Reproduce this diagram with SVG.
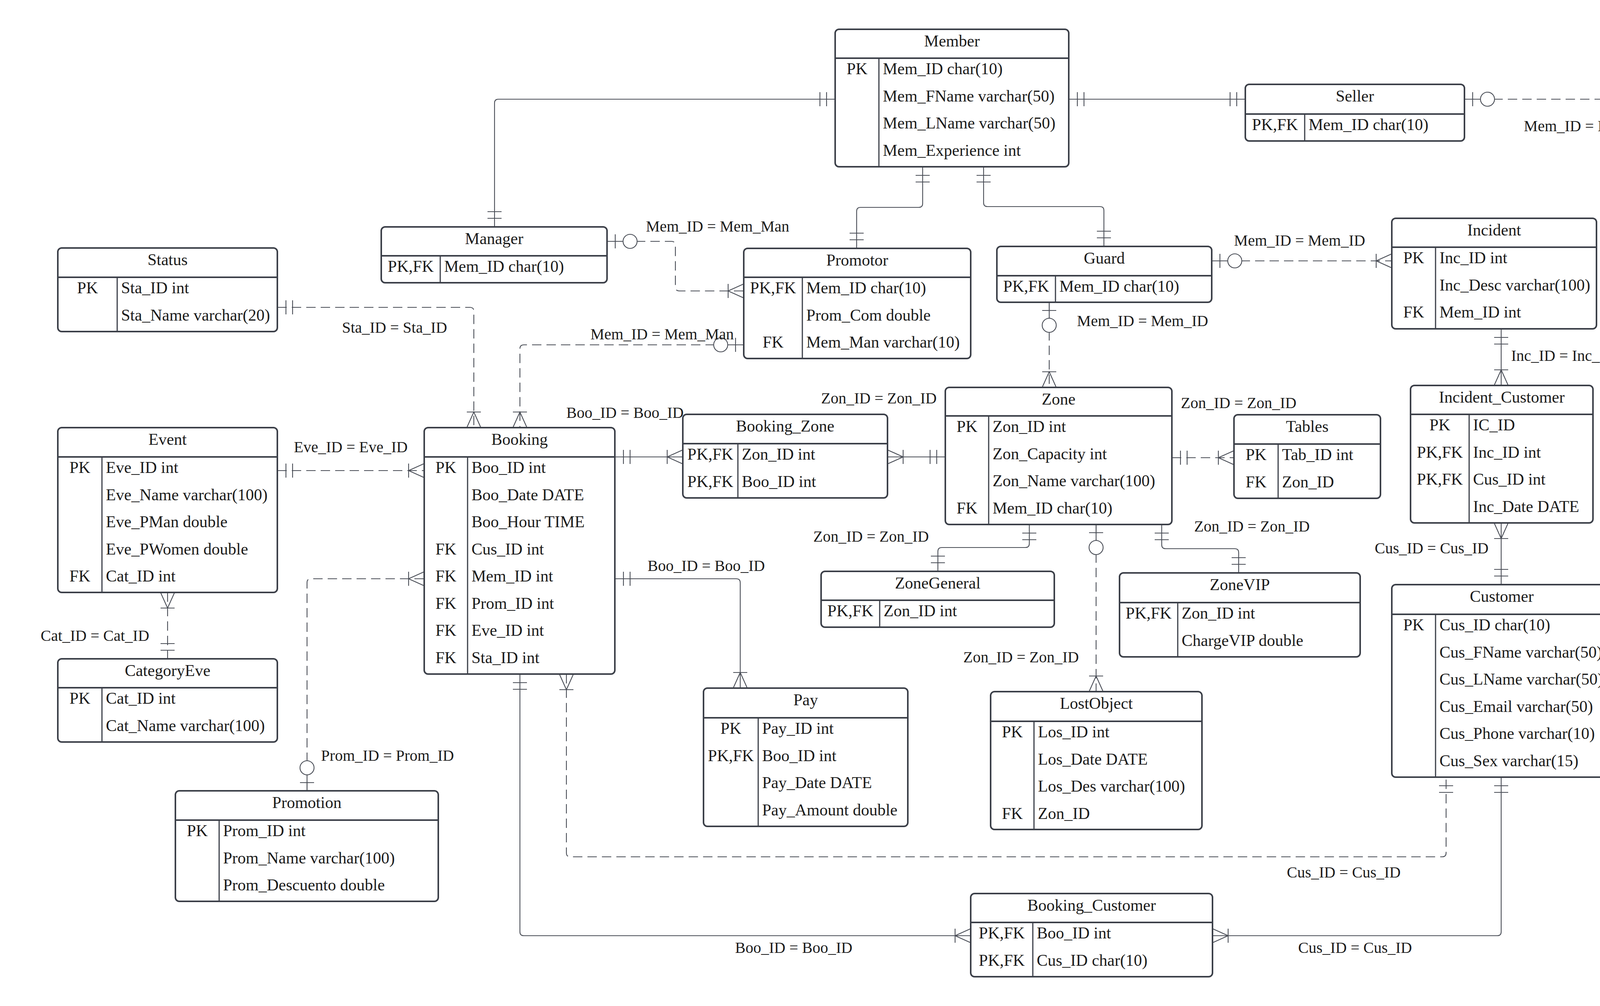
<svg xmlns="http://www.w3.org/2000/svg" width="5925" height="2576" viewBox="0 0 5925 2576">
<style>
.box{fill:#fff;stroke:#3b3f48;stroke-width:4}
.sep{stroke:#3b3f48;stroke-width:4}
.dv{stroke:#3b3f48;stroke-width:3}
text{font-family:"Liberation Serif","Times New Roman",serif;font-size:42px;fill:#1b1b1b}
.c{text-anchor:middle}
.lbl{font-size:40px;text-anchor:middle}
.ln{fill:none;stroke:#4a4e57;stroke-width:2.2}
.dash{stroke-dasharray:24 13}
</style>
<defs>
<marker id="one" markerUnits="userSpaceOnUse" orient="auto-start-reverse" viewBox="-90 -30 100 60" refX="0" refY="0" markerWidth="100" markerHeight="60">
<path d="M-22 -18V18M-39 -18V18" fill="none" stroke="#4a4e57" stroke-width="2.2"/>
</marker>
<marker id="many" markerUnits="userSpaceOnUse" orient="auto-start-reverse" viewBox="-90 -30 100 60" refX="0" refY="0" markerWidth="100" markerHeight="60">
<path d="M0 -18L-40 0L0 18M-40 -18V18" fill="none" stroke="#4a4e57" stroke-width="2.2"/>
</marker>
<marker id="zero" markerUnits="userSpaceOnUse" orient="auto-start-reverse" viewBox="-90 -30 100 60" refX="0" refY="0" markerWidth="100" markerHeight="60">
<path d="M-21 -18V18M0 0H-41" fill="none" stroke="#4a4e57" stroke-width="2.2"/>
<circle cx="-59" cy="0" r="18" fill="#fff" stroke="#4a4e57" stroke-width="2.2"/>
</marker>
</defs>
<rect width="5925" height="2576" fill="#fff"/>

<g id="connectors">
<path class="ln" d="M1266 581V264Q1266 254 1276 254H2138" marker-start="url(#one)" marker-end="url(#one)"/>
<path class="ln" d="M2736 254H3188" marker-start="url(#one)" marker-end="url(#one)"/>
<path class="ln dash" d="M3749 254H4313" marker-start="url(#zero)" marker-end="url(#many)"/>
<path class="ln" d="M4869 254H5272" marker-start="url(#one)" marker-end="url(#many)"/>
<path class="ln" d="M5512 358V634" marker-start="url(#many)" marker-end="url(#one)"/>
<path class="ln dash" d="M4592 427V658Q4592 668 4582 668H4248Q4238 668 4238 678V1667Q4238 1677 4228 1677H4126" marker-start="url(#many)" marker-end="url(#one)"/>
<path class="ln" d="M2362 427V521Q2362 531 2352 531H2203Q2193 531 2193 541V636" marker-start="url(#one)" marker-end="url(#one)"/>
<path class="ln" d="M2518 427V519Q2518 529 2528 529H2816Q2826 529 2826 539V631" marker-start="url(#one)" marker-end="url(#one)"/>
<path class="ln dash" d="M1554 618H1719Q1729 618 1729 628V735Q1729 745 1739 745H1904" marker-start="url(#zero)" marker-end="url(#many)"/>
<path class="ln dash" d="M1904 883H1341Q1331 883 1331 893V1095" marker-start="url(#zero)" marker-end="url(#many)"/>
<path class="ln dash" d="M710 787H1203Q1213 787 1213 797V1095" marker-start="url(#one)" marker-end="url(#many)"/>
<path class="ln dash" d="M710 1205H1086" marker-start="url(#one)" marker-end="url(#many)"/>
<path class="ln dash" d="M429 1517V1687" marker-start="url(#many)" marker-end="url(#one)"/>
<path class="ln dash" d="M786 2025V1492Q786 1482 796 1482H1086" marker-start="url(#zero)" marker-end="url(#many)"/>
<path class="ln" d="M1574 1170H1748" marker-start="url(#one)" marker-end="url(#many)"/>
<path class="ln" d="M2420 1170H2272" marker-start="url(#one)" marker-end="url(#many)"/>
<path class="ln dash" d="M2686 774V992" marker-start="url(#zero)" marker-end="url(#many)"/>
<path class="ln dash" d="M3102 668H3563" marker-start="url(#zero)" marker-end="url(#many)"/>
<path class="ln" d="M3843 842V987" marker-start="url(#one)" marker-end="url(#many)"/>
<path class="ln" d="M3843 1497V1339" marker-start="url(#one)" marker-end="url(#many)"/>
<path class="ln dash" d="M3000 1172H3159" marker-start="url(#one)" marker-end="url(#many)"/>
<path class="ln" d="M2635 1343V1392Q2635 1402 2625 1402H2411Q2401 1402 2401 1412V1463" marker-start="url(#one)" marker-end="url(#one)"/>
<path class="ln dash" d="M2806 1343V1771" marker-start="url(#zero)" marker-end="url(#many)"/>
<path class="ln" d="M2974 1343V1395Q2974 1405 2984 1405H3161Q3171 1405 3171 1415V1467" marker-start="url(#one)" marker-end="url(#one)"/>
<path class="ln" d="M1574 1482H1885Q1895 1482 1895 1492V1762" marker-start="url(#one)" marker-end="url(#many)"/>
<path class="ln dash" d="M1450 1726V2184Q1450 2194 1460 2194H3692Q3702 2194 3702 2184V1990" marker-start="url(#many)" marker-end="url(#one)"/>
<path class="ln" d="M1331 1726V2386Q1331 2396 1341 2396H2485" marker-start="url(#one)" marker-end="url(#many)"/>
<path class="ln" d="M3843 1990V2386Q3843 2396 3833 2396H3104" marker-start="url(#one)" marker-end="url(#many)"/>
<path class="ln dash" d="M5176 813H4609Q4599 813 4599 823V919" marker-start="url(#many)" marker-end="url(#one)"/>
<path class="ln" d="M5176 1022H4968Q4958 1022 4958 1032V1370Q4958 1380 4948 1380H4888" marker-start="url(#one)" marker-end="url(#many)"/>
<path class="ln" d="M5466 1126V1449" marker-start="url(#one)" marker-end="url(#many)"/>
<path class="ln" d="M4631 1988V1708Q4631 1698 4641 1698H5168" marker-start="url(#one)" marker-end="url(#many)"/>
<text class="lbl" x="4069" y="336">Mem_ID = Mem_ID</text>
<text class="lbl" x="5070" y="217">Sal_ID = Sal_ID</text>
<text class="lbl" x="5297" y="527">Pro_Code = Pro_Code</text>
<text class="lbl" x="4435" y="744">Cus_ID = Cus_ID</text>
<text class="lbl" x="1837" y="593">Mem_ID = Mem_Man</text>
<text class="lbl" x="1695" y="869">Mem_ID = Mem_Man</text>
<text class="lbl" x="1010" y="852">Sta_ID = Sta_ID</text>
<text class="lbl" x="898" y="1158">Eve_ID = Eve_ID</text>
<text class="lbl" x="243" y="1641">Cat_ID = Cat_ID</text>
<text class="lbl" x="992" y="1948">Prom_ID = Prom_ID</text>
<text class="lbl" x="1600" y="1070">Boo_ID = Boo_ID</text>
<text class="lbl" x="2250" y="1033">Zon_ID = Zon_ID</text>
<text class="lbl" x="2925" y="835">Mem_ID = Mem_ID</text>
<text class="lbl" x="3327" y="629">Mem_ID = Mem_ID</text>
<text class="lbl" x="4003" y="924">Inc_ID = Inc_ID</text>
<text class="lbl" x="3665" y="1417">Cus_ID = Cus_ID</text>
<text class="lbl" x="3171" y="1045">Zon_ID = Zon_ID</text>
<text class="lbl" x="2230" y="1387">Zon_ID = Zon_ID</text>
<text class="lbl" x="2614" y="1696">Zon_ID = Zon_ID</text>
<text class="lbl" x="3205" y="1361">Zon_ID = Zon_ID</text>
<text class="lbl" x="1808" y="1462">Boo_ID = Boo_ID</text>
<text class="lbl" x="3440" y="2247">Cus_ID = Cus_ID</text>
<text class="lbl" x="2032" y="2440">Boo_ID = Boo_ID</text>
<text class="lbl" x="3469" y="2440">Cus_ID = Cus_ID</text>
<text class="lbl" x="4921" y="784">Cat_ID = Cat_ID</text>
<text class="lbl" x="5184" y="1231">Pro_Code = Pro_Code</text>
<text class="lbl" x="5661" y="1304">Pro_Code = Pro_Code</text>
<text class="lbl" x="4838" y="1829">Sup_RUC = Sup_RUC</text>
</g>

<g id="Status">
<rect class="box" x="148" y="635" width="562" height="214" rx="10"/>
<line class="sep" x1="148" y1="710" x2="710" y2="710"/><line class="dv" x1="300" y1="710" x2="300" y2="849"/>
<text class="c" x="429" y="679">Status</text>
<text class="c" x="224" y="751">PK</text><text x="310" y="751">Sta_ID int</text>
<text x="310" y="820.5">Sta_Name varchar(20)</text>
</g>

<g id="Manager">
<rect class="box" x="976" y="581" width="578" height="143" rx="10"/>
<line class="sep" x1="976" y1="655" x2="1554" y2="655"/><line class="dv" x1="1127" y1="655" x2="1127" y2="724"/>
<text class="c" x="1265" y="625">Manager</text>
<text class="c" x="1051.5" y="696">PK,FK</text><text x="1137" y="696">Mem_ID char(10)</text>
</g>

<g id="Member">
<rect class="box" x="2138" y="75" width="598" height="352" rx="10"/>
<line class="sep" x1="2138" y1="149" x2="2736" y2="149"/><line class="dv" x1="2250" y1="149" x2="2250" y2="427"/>
<text class="c" x="2437" y="119">Member</text>
<text class="c" x="2194" y="190">PK</text><text x="2260" y="190">Mem_ID char(10)</text>
<text x="2260" y="259.5">Mem_FName varchar(50)</text>
<text x="2260" y="329">Mem_LName varchar(50)</text>
<text x="2260" y="398.5">Mem_Experience int</text>
</g>

<g id="Promotor">
<rect class="box" x="1904" y="636" width="581" height="282" rx="10"/>
<line class="sep" x1="1904" y1="710" x2="2485" y2="710"/><line class="dv" x1="2054" y1="710" x2="2054" y2="918"/>
<text class="c" x="2194.5" y="680">Promotor</text>
<text class="c" x="1979" y="751">PK,FK</text><text x="2064" y="751">Mem_ID char(10)</text>
<text x="2064" y="820.5">Prom_Com double</text>
<text class="c" x="1979" y="890">FK</text><text x="2064" y="890">Mem_Man varchar(10)</text>
</g>

<g id="Guard">
<rect class="box" x="2552" y="631" width="550" height="143" rx="10"/>
<line class="sep" x1="2552" y1="706" x2="3102" y2="706"/><line class="dv" x1="2702" y1="706" x2="2702" y2="774"/>
<text class="c" x="2827" y="675">Guard</text>
<text class="c" x="2627" y="747">PK,FK</text><text x="2712" y="747">Mem_ID char(10)</text>
</g>

<g id="Seller">
<rect class="box" x="3188" y="216" width="561" height="145" rx="10"/>
<line class="sep" x1="3188" y1="292" x2="3749" y2="292"/><line class="dv" x1="3340" y1="292" x2="3340" y2="361"/>
<text class="c" x="3468.5" y="260">Seller</text>
<text class="c" x="3264" y="333">PK,FK</text><text x="3350" y="333">Mem_ID char(10)</text>
</g>

<g id="Incident">
<rect class="box" x="3563" y="559" width="524" height="283" rx="10"/>
<line class="sep" x1="3563" y1="633" x2="4087" y2="633"/><line class="dv" x1="3675" y1="633" x2="3675" y2="842"/>
<text class="c" x="3825" y="603">Incident</text>
<text class="c" x="3619" y="674">PK</text><text x="3685" y="674">Inc_ID int</text>
<text x="3685" y="743.5">Inc_Desc varchar(100)</text>
<text class="c" x="3619" y="813">FK</text><text x="3685" y="813">Mem_ID int</text>
</g>

<g id="Sale">
<rect class="box" x="4313" y="75" width="556" height="352" rx="10"/>
<line class="sep" x1="4313" y1="149" x2="4869" y2="149"/><line class="dv" x1="4465" y1="149" x2="4465" y2="427"/>
<text class="c" x="4591" y="119">Sale</text>
<text class="c" x="4389" y="190">PK</text><text x="4475" y="190">Sal_ID int</text>
<text x="4475" y="259.5">Sal_Date DATE</text>
<text class="c" x="4389" y="329">FK</text><text x="4475" y="329">Mem_ID char(10)</text>
<text class="c" x="4389" y="398.5">FK</text><text x="4475" y="398.5">Cus_ID char(10)</text>
</g>

<g id="Product_Sale">
<rect class="box" x="5272" y="75" width="579" height="283" rx="10"/>
<line class="sep" x1="5272" y1="149" x2="5851" y2="149"/><line class="dv" x1="5423" y1="149" x2="5423" y2="358"/>
<text class="c" x="5561.5" y="119">Product_Sale</text>
<text class="c" x="5347.5" y="190">PK,FK</text><text x="5433" y="190">Sal_ID int</text>
<text class="c" x="5347.5" y="259.5">PK,FK</text><text x="5433" y="259.5">Pro_Code int</text>
<text x="5433" y="329">ProSale_Quantity int</text>
</g>

<g id="Product">
<rect class="box" x="5176" y="634" width="675" height="492" rx="10"/>
<line class="sep" x1="5176" y1="709" x2="5851" y2="709"/><line class="dv" x1="5288" y1="709" x2="5288" y2="1126"/>
<text class="c" x="5513.5" y="678">Product</text>
<text class="c" x="5232" y="750">PK</text><text x="5298" y="750">Pro_Code int</text>
<text x="5298" y="819.5">Pro_Description varchar(200)</text>
<text x="5298" y="889">Pro_Price double</text>
<text x="5298" y="958.5">Pro_UnitSize varchar(50)</text>
<text class="c" x="5232" y="1028">FK</text><text x="5298" y="1028">Cat_ID int</text>
<text class="c" x="5232" y="1097.5">FK</text><text x="5298" y="1097.5">Unit_ID int</text>
</g>

<g id="CategoryProd">
<rect class="box" x="4319" y="919" width="561" height="214" rx="10"/>
<line class="sep" x1="4319" y1="994" x2="4880" y2="994"/><line class="dv" x1="4430" y1="994" x2="4430" y2="1133"/>
<text class="c" x="4599.5" y="963">CategoryProd</text>
<text class="c" x="4374.5" y="1035">PK</text><text x="4440" y="1035">Cat_ID int</text>
<text x="4440" y="1104.5">Cat_Name varchar(100)</text>
</g>

<g id="Inventory">
<rect class="box" x="4319" y="1201" width="569" height="352" rx="10"/>
<line class="sep" x1="4319" y1="1276" x2="4888" y2="1276"/><line class="dv" x1="4509" y1="1276" x2="4509" y2="1553"/>
<text class="c" x="4603.5" y="1245">Inventory</text>
<text class="c" x="4414" y="1317">PK</text><text x="4519" y="1317">Inv_ID int</text>
<text class="c" x="4414" y="1386.5">PK,FK</text><text x="4519" y="1386.5">Pro_Code int</text>
<text x="4519" y="1456">Inv_Date DATE</text>
<text x="4519" y="1525.5">Inv_Stock int</text>
</g>

<g id="Product_Supplier">
<rect class="box" x="5168" y="1449" width="597" height="423" rx="10"/>
<line class="sep" x1="5168" y1="1525" x2="5765" y2="1525"/><line class="dv" x1="5318" y1="1525" x2="5318" y2="1872"/>
<text class="c" x="5466.5" y="1493">Product_Supplier</text>
<text class="c" x="5243" y="1566">PK,FK</text><text x="5328" y="1566">Pro_Code int</text>
<text class="c" x="5243" y="1635.5">PK,FK</text><text x="5328" y="1635.5">Sup_RUC varchar(13)</text>
<text class="c" x="5243" y="1705">PK</text><text x="5328" y="1705">Bill_ID int</text>
<text x="5328" y="1774.5">Bill_Date DATE</text>
<text x="5328" y="1844" xml:space="preserve">Bill_Quantity  int</text>
</g>

<g id="Supplier">
<rect class="box" x="4350" y="1988" width="562" height="352" rx="10"/>
<line class="sep" x1="4350" y1="2062" x2="4912" y2="2062"/><line class="dv" x1="4463" y1="2062" x2="4463" y2="2340"/>
<text class="c" x="4631" y="2032">Supplier</text>
<text class="c" x="4406.5" y="2103">PK</text><text x="4473" y="2103">Sup_RUC char(13)</text>
<text x="4473" y="2172.5">Sup_Name varchar(50)</text>
<text x="4473" y="2242">Sup_Phone varchar(15)</text>
<text x="4473" y="2311.5">Sup_Email varchar(100)</text>
</g>

<g id="Customer">
<rect class="box" x="3563" y="1497" width="563" height="493" rx="10"/>
<line class="sep" x1="3563" y1="1573" x2="4126" y2="1573"/><line class="dv" x1="3675" y1="1573" x2="3675" y2="1990"/>
<text class="c" x="3844.5" y="1541">Customer</text>
<text class="c" x="3619" y="1614">PK</text><text x="3685" y="1614">Cus_ID char(10)</text>
<text x="3685" y="1683.5">Cus_FName varchar(50)</text>
<text x="3685" y="1753">Cus_LName varchar(50)</text>
<text x="3685" y="1822.5">Cus_Email varchar(50)</text>
<text x="3685" y="1892">Cus_Phone varchar(10)</text>
<text x="3685" y="1961.5">Cus_Sex varchar(15)</text>
</g>

<g id="Incident_Customer">
<rect class="box" x="3611" y="987" width="467" height="352" rx="10"/>
<line class="sep" x1="3611" y1="1061" x2="4078" y2="1061"/><line class="dv" x1="3761" y1="1061" x2="3761" y2="1339"/>
<text class="c" x="3844.5" y="1031">Incident_Customer</text>
<text class="c" x="3686" y="1102">PK</text><text x="3771" y="1102">IC_ID</text>
<text class="c" x="3686" y="1171.5">PK,FK</text><text x="3771" y="1171.5">Inc_ID int</text>
<text class="c" x="3686" y="1241">PK,FK</text><text x="3771" y="1241">Cus_ID int</text>
<text x="3771" y="1310.5">Inc_Date DATE</text>
</g>

<g id="Tables">
<rect class="box" x="3159" y="1062" width="375" height="214" rx="10"/>
<line class="sep" x1="3159" y1="1137" x2="3534" y2="1137"/><line class="dv" x1="3272" y1="1137" x2="3272" y2="1276"/>
<text class="c" x="3346.5" y="1106">Tables</text>
<text class="c" x="3215.5" y="1178">PK</text><text x="3282" y="1178">Tab_ID int</text>
<text class="c" x="3215.5" y="1247.5">FK</text><text x="3282" y="1247.5">Zon_ID</text>
</g>

<g id="Zone">
<rect class="box" x="2420" y="992" width="580" height="351" rx="10"/>
<line class="sep" x1="2420" y1="1065" x2="3000" y2="1065"/><line class="dv" x1="2531" y1="1065" x2="2531" y2="1343"/>
<text class="c" x="2710" y="1036">Zone</text>
<text class="c" x="2475.5" y="1106">PK</text><text x="2541" y="1106">Zon_ID int</text>
<text x="2541" y="1175.5">Zon_Capacity int</text>
<text x="2541" y="1245">Zon_Name varchar(100)</text>
<text class="c" x="2475.5" y="1314.5">FK</text><text x="2541" y="1314.5">Mem_ID char(10)</text>
</g>

<g id="Booking_Zone">
<rect class="box" x="1748" y="1061" width="524" height="214" rx="10"/>
<line class="sep" x1="1748" y1="1136" x2="2272" y2="1136"/><line class="dv" x1="1889" y1="1136" x2="1889" y2="1275"/>
<text class="c" x="2010" y="1105">Booking_Zone</text>
<text class="c" x="1818.5" y="1177">PK,FK</text><text x="1899" y="1177">Zon_ID int</text>
<text class="c" x="1818.5" y="1246.5">PK,FK</text><text x="1899" y="1246.5">Boo_ID int</text>
</g>

<g id="ZoneGeneral">
<rect class="box" x="2102" y="1463" width="597" height="143" rx="10"/>
<line class="sep" x1="2102" y1="1537" x2="2699" y2="1537"/><line class="dv" x1="2252" y1="1537" x2="2252" y2="1606"/>
<text class="c" x="2400.5" y="1507">ZoneGeneral</text>
<text class="c" x="2177" y="1578">PK,FK</text><text x="2262" y="1578">Zon_ID int</text>
</g>

<g id="ZoneVIP">
<rect class="box" x="2866" y="1467" width="616" height="215" rx="10"/>
<line class="sep" x1="2866" y1="1543" x2="3482" y2="1543"/><line class="dv" x1="3015" y1="1543" x2="3015" y2="1682"/>
<text class="c" x="3174" y="1511">ZoneVIP</text>
<text class="c" x="2940.5" y="1584">PK,FK</text><text x="3025" y="1584">Zon_ID int</text>
<text x="3025" y="1653.5">ChargeVIP double</text>
</g>

<g id="Booking">
<rect class="box" x="1086" y="1095" width="488" height="631" rx="10"/>
<line class="sep" x1="1086" y1="1170" x2="1574" y2="1170"/><line class="dv" x1="1197" y1="1170" x2="1197" y2="1726"/>
<text class="c" x="1330" y="1139">Booking</text>
<text class="c" x="1141.5" y="1211">PK</text><text x="1207" y="1211">Boo_ID int</text>
<text x="1207" y="1280.5">Boo_Date DATE</text>
<text x="1207" y="1350">Boo_Hour TIME</text>
<text class="c" x="1141.5" y="1419.5">FK</text><text x="1207" y="1419.5">Cus_ID int</text>
<text class="c" x="1141.5" y="1489">FK</text><text x="1207" y="1489">Mem_ID int</text>
<text class="c" x="1141.5" y="1558.5">FK</text><text x="1207" y="1558.5">Prom_ID int</text>
<text class="c" x="1141.5" y="1628">FK</text><text x="1207" y="1628">Eve_ID int</text>
<text class="c" x="1141.5" y="1697.5">FK</text><text x="1207" y="1697.5">Sta_ID int</text>
</g>

<g id="Event">
<rect class="box" x="148" y="1095" width="562" height="422" rx="10"/>
<line class="sep" x1="148" y1="1170" x2="710" y2="1170"/><line class="dv" x1="261" y1="1170" x2="261" y2="1517"/>
<text class="c" x="429" y="1139">Event</text>
<text class="c" x="204.5" y="1211">PK</text><text x="271" y="1211">Eve_ID int</text>
<text x="271" y="1280.5">Eve_Name varchar(100)</text>
<text x="271" y="1350">Eve_PMan double</text>
<text x="271" y="1419.5">Eve_PWomen double</text>
<text class="c" x="204.5" y="1489">FK</text><text x="271" y="1489">Cat_ID int</text>
</g>

<g id="CategoryEve">
<rect class="box" x="148" y="1687" width="562" height="213" rx="10"/>
<line class="sep" x1="148" y1="1761" x2="710" y2="1761"/><line class="dv" x1="261" y1="1761" x2="261" y2="1900"/>
<text class="c" x="429" y="1731">CategoryEve</text>
<text class="c" x="204.5" y="1802">PK</text><text x="271" y="1802">Cat_ID int</text>
<text x="271" y="1871.5">Cat_Name varchar(100)</text>
</g>

<g id="Promotion">
<rect class="box" x="449" y="2025" width="673" height="283" rx="10"/>
<line class="sep" x1="449" y1="2100" x2="1122" y2="2100"/><line class="dv" x1="561" y1="2100" x2="561" y2="2308"/>
<text class="c" x="785.5" y="2069">Promotion</text>
<text class="c" x="505" y="2141">PK</text><text x="571" y="2141">Prom_ID int</text>
<text x="571" y="2210.5">Prom_Name varchar(100)</text>
<text x="571" y="2280">Prom_Descuento double</text>
</g>

<g id="Pay">
<rect class="box" x="1801" y="1762" width="523" height="354" rx="10"/>
<line class="sep" x1="1801" y1="1838" x2="2324" y2="1838"/><line class="dv" x1="1941" y1="1838" x2="1941" y2="2116"/>
<text class="c" x="2062.5" y="1806">Pay</text>
<text class="c" x="1871" y="1879">PK</text><text x="1951" y="1879">Pay_ID int</text>
<text class="c" x="1871" y="1948.5">PK,FK</text><text x="1951" y="1948.5">Boo_ID int</text>
<text x="1951" y="2018">Pay_Date DATE</text>
<text x="1951" y="2087.5">Pay_Amount double</text>
</g>

<g id="LostObject">
<rect class="box" x="2536" y="1771" width="541" height="353" rx="10"/>
<line class="sep" x1="2536" y1="1847" x2="3077" y2="1847"/><line class="dv" x1="2647" y1="1847" x2="2647" y2="2124"/>
<text class="c" x="2806.5" y="1815">LostObject</text>
<text class="c" x="2591.5" y="1888">PK</text><text x="2657" y="1888">Los_ID int</text>
<text x="2657" y="1957.5">Los_Date DATE</text>
<text x="2657" y="2027">Los_Des varchar(100)</text>
<text class="c" x="2591.5" y="2096.5">FK</text><text x="2657" y="2096.5">Zon_ID</text>
</g>

<g id="Booking_Customer">
<rect class="box" x="2485" y="2288" width="619" height="213" rx="10"/>
<line class="sep" x1="2485" y1="2362" x2="3104" y2="2362"/><line class="dv" x1="2644" y1="2362" x2="2644" y2="2501"/>
<text class="c" x="2794.5" y="2332">Booking_Customer</text>
<text class="c" x="2564.5" y="2403">PK,FK</text><text x="2654" y="2403">Boo_ID int</text>
<text class="c" x="2564.5" y="2472.5">PK,FK</text><text x="2654" y="2472.5">Cus_ID char(10)</text>
</g>
</svg>
